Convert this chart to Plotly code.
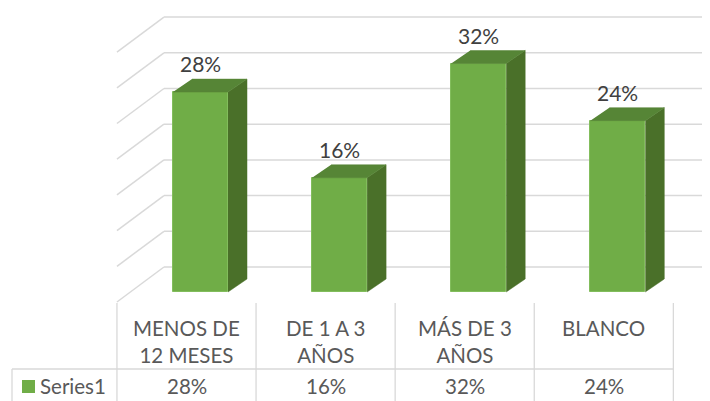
import plotly.graph_objects as go

# ---- data ----
categories = ["MENOS DE<br>12 MESES", "DE 1 A 3<br>AÑOS", "MÁS DE 3<br>AÑOS", "BLANCO"]
values = [28, 16, 32, 24]
value_labels = ["28%", "16%", "32%", "24%"]
series_name = "Series1"
grid_values = [0, 5, 10, 15, 20, 25, 30, 35]

# ---- layout constants (pixel geometry of the reference) ----
W, H = 710, 401
PAGE = 8                 # default body margin of the html page
X0, XS = 186.5, 139.1    # px of category 0 centre at front edge, px per category
Y0, YS = 292.0, 7.14     # px of value 0 at bar front plane, px per percent


def xd(px):
    return (px - X0) / XS


def yd(py):
    return (Y0 - py) / YS


BAR_SHIFT = 14 / XS
BAR_W = 55 / XS
DX, DY = 19 / XS, 13 / YS            # bar depth
WALL_DX, WALL_DY = 47 / XS, 25 / YS  # back wall offset from bar plane
FLOOR_DY = 35 / YS

FRONT = "#70AD47"
SIDE = "#4A7029"
TOP = "#568536"
GRID = "#D9D9D9"
TXT = "#595959"
FONT = "Lato"

fig = go.Figure()

# front faces
fig.add_trace(go.Bar(
    x=[i + BAR_SHIFT for i in range(len(values))], y=values, width=BAR_W,
    marker=dict(color=FRONT, line=dict(color="#82BD5C", width=1)),
    showlegend=False, hoverinfo="skip"))

# side and top faces
sx, sy, tx, ty = [], [], [], []
for i, v in enumerate(values):
    xr = i + BAR_SHIFT + BAR_W / 2
    xl = xr - BAR_W
    sx += [xr, xr + DX, xr + DX, xr, None]
    sy += [0, DY, v + DY, v, None]
    tx += [xl, xr, xr + DX, xl + DX, None]
    ty += [v, v, v + DY, v + DY, None]
fig.add_trace(go.Scatter(x=sx, y=sy, fill="toself", fillcolor=SIDE, mode="lines",
                         line=dict(width=0.5, color=SIDE), showlegend=False, hoverinfo="skip"))
fig.add_trace(go.Scatter(x=tx, y=ty, fill="toself", fillcolor=TOP, mode="lines",
                         line=dict(width=0.5, color=TOP), showlegend=False, hoverinfo="skip"))

shapes = []
left_back = -0.5 + WALL_DX
for g in grid_values:
    yb = g + WALL_DY
    shapes.append(dict(type="line", xref="x", yref="y", layer="below",
                       x0=left_back, x1=xd(730), y0=yb, y1=yb,
                       line=dict(color=GRID, width=1.5)))
    shapes.append(dict(type="line", xref="x", yref="y", layer="below",
                       x0=left_back, x1=-0.5, y0=yb, y1=yb - FLOOR_DY,
                       line=dict(color=GRID, width=1.5)))

# data table lines
for k in range(len(values) + 1):
    shapes.append(dict(type="line", xref="x", yref="y", layer="below",
                       x0=-0.5 + k, x1=-0.5 + k, y0=yd(303), y1=yd(412),
                       line=dict(color=GRID, width=1.3)))
shapes.append(dict(type="line", xref="x", yref="y", layer="below",
                   x0=xd(12), x1=xd(12), y0=yd(369), y1=yd(412),
                   line=dict(color=GRID, width=1.3)))
shapes.append(dict(type="line", xref="x", yref="y", layer="below",
                   x0=xd(12), x1=len(values) - 0.5, y0=yd(369), y1=yd(369),
                   line=dict(color=GRID, width=1.3)))
# legend key
shapes.append(dict(type="rect", xref="x", yref="y", x0=xd(22), x1=xd(35),
                   y0=yd(393), y1=yd(380), fillcolor=FRONT, line=dict(width=0)))

annotations = []
for i, v in enumerate(values):
    annotations.append(dict(x=i + BAR_SHIFT, y=v + DY, xref="x", yref="y",
                            text=value_labels[i], showarrow=False, yanchor="bottom",
                            yshift=1, font=dict(family=FONT, size=21, color="#404040")))
    annotations.append(dict(x=i, y=yd(314), xref="x", yref="y", text=categories[i],
                            showarrow=False, yanchor="top", align="center",
                            font=dict(family=FONT, size=20.5, color=TXT)))
    annotations.append(dict(x=i, y=yd(386), xref="x", yref="y", text=value_labels[i],
                            showarrow=False, yanchor="middle",
                            font=dict(family=FONT, size=20.5, color=TXT)))
annotations.append(dict(x=xd(38), y=yd(386), xref="x", yref="y", text=series_name,
                        showarrow=False, xanchor="left", yanchor="middle",
                        font=dict(family=FONT, size=20.5, color=TXT)))

fig.update_layout(
    width=W, height=H, autosize=False,
    margin=dict(l=0, r=0, t=0, b=0),
    paper_bgcolor="white", plot_bgcolor="white",
    # figure pixel 0 sits at page pixel PAGE, so the ranges start there
    xaxis=dict(range=[xd(PAGE), xd(W + PAGE)], visible=False, fixedrange=True),
    yaxis=dict(range=[yd(H + PAGE), yd(PAGE)], visible=False, fixedrange=True),
    shapes=shapes, annotations=annotations, bargap=0,
)

fig.write_html("out.html")
